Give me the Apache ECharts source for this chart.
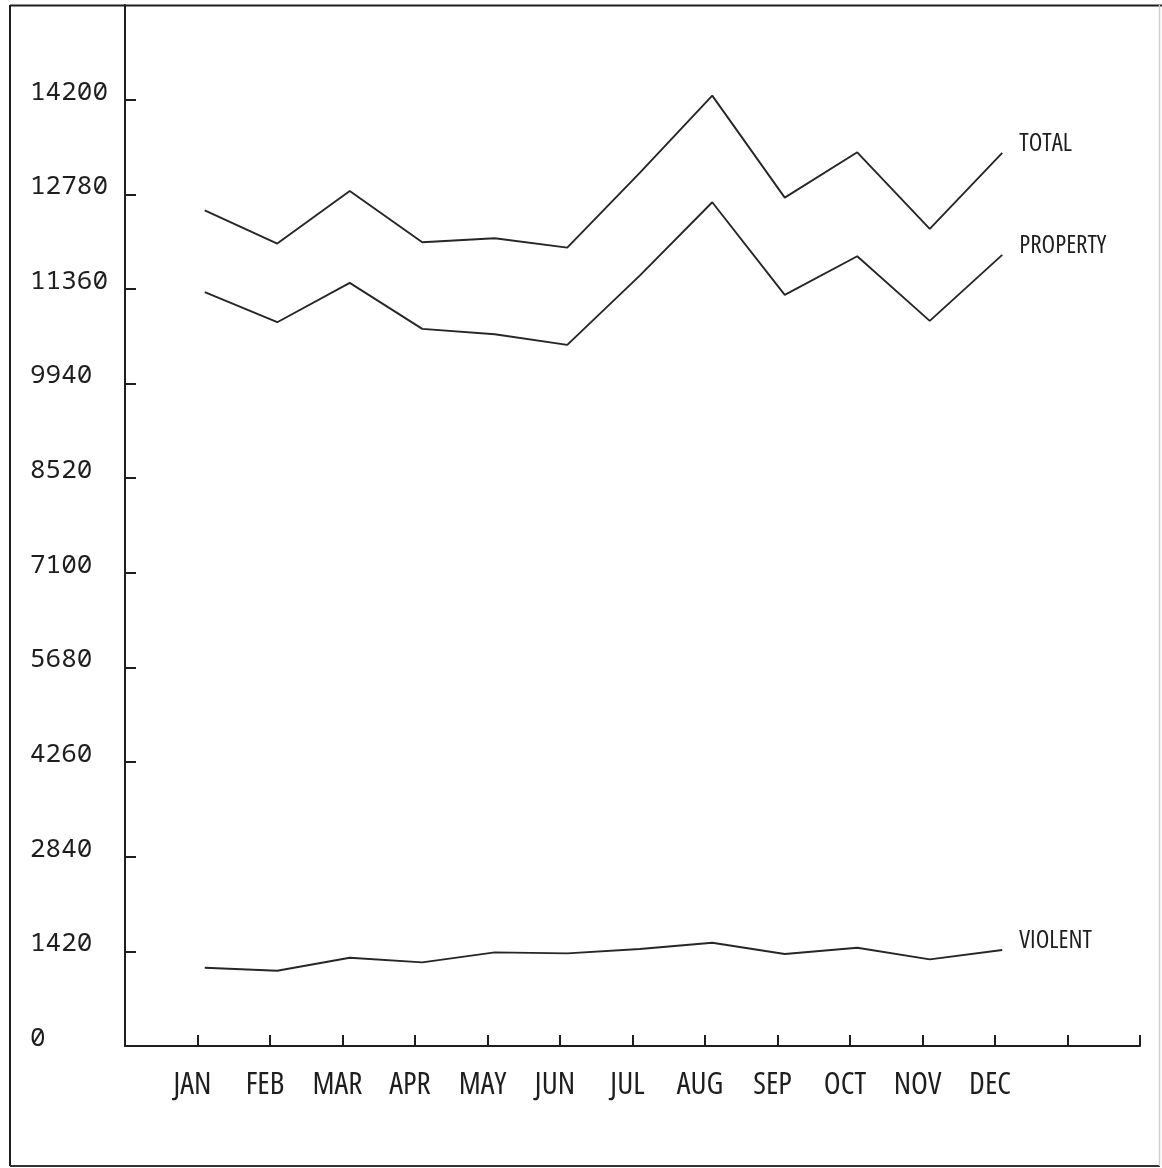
<!DOCTYPE html>
<html><head><meta charset="utf-8">
<script src="https://cdn.jsdelivr.net/npm/echarts@6/dist/echarts.min.js"></script>
<style>html,body{margin:0;padding:0;background:#fff}#c{width:1162px;height:1168px}</style>
</head><body><div id="c"></div>
<script>
// ---- data ----
const months = ['JAN','FEB','MAR','APR','MAY','JUN','JUL','AUG','SEP','OCT','NOV','DEC'];
const totalCrimes    = [12540, 12040, 12830, 12060, 12120, 11980, 13100, 14260, 12730, 13410, 12260, 13400];
const propertyCrimes = [11310, 10860, 11450, 10760, 10680, 10520, 11560, 12660, 11270, 11850, 10880, 11870];
const violentCrimes  = [1175, 1130, 1325, 1255, 1405, 1390, 1455, 1550, 1380, 1475, 1300, 1440];
const seriesNames = ['TOTAL', 'PROPERTY', 'VIOLENT'];
const yTickStep = 1420;

const ink = '#1e1e1e';
const chart = echarts.init(document.getElementById('c'), null, {renderer: 'canvas'});

function lineSeries(name, values) {
  return {
    name: name,
    type: 'line',
    xAxisIndex: 1,
    data: values.map((v, i) => [i + 1, v]),
    showSymbol: false,
    symbol: 'none',
    lineStyle: {color: '#262626', width: 1.9},
    endLabel: {
      show: true,
      formatter: '{a}',
      distance: 17,
      offset: [0, -9],
      color: ink,
      fontStyle: 'condensed',
      fontWeight: 500,
      fontFamily: 'Open Sans',
      fontSize: 25
    },
    emphasis: {disabled: true},
    silent: true
  };
}

chart.setOption({
  animation: false,
  backgroundColor: '#fff',
  grid: {left: 125, right: 22, top: 5, bottom: 122, containLabel: false},
  xAxis: [{
    type: 'value',
    min: 0, max: 14, interval: 1,
    splitLine: {show: false},
    axisLine: {show: true, lineStyle: {color: ink, width: 2}},
    axisTick: {show: true, inside: true, length: 11, lineStyle: {color: ink, width: 2}},
    axisLabel: {
      show: true,
      formatter: v => (v >= 1 && v <= months.length) ? months[v - 1] : '',
      margin: 24,
      padding: [0, 10, 0, 0],
      color: ink,
      fontStyle: 'condensed',
      fontWeight: 500,
      fontFamily: 'Open Sans',
      fontSize: 31
    }
  }, {
    type: 'value',
    min: -0.1, max: 13.9,
    show: false
  }],
  yAxis: {
    type: 'value',
    min: 0, max: 15620, interval: yTickStep,
    splitLine: {show: false},
    axisLine: {show: true, lineStyle: {color: ink, width: 2}},
    axisTick: {show: true, inside: true, length: 11, lineStyle: {color: ink, width: 2}},
    axisLabel: {
      show: true,
      showMaxLabel: false,
      showMinLabel: true,
      formatter: v => String(v),
      align: 'left',
      verticalAlign: 'bottom',
      lineHeight: 15,
      margin: 95,
      color: ink,
      fontFamily: '"Noto Sans Mono", "DejaVu Sans Mono", monospace',
      fontSize: 26
    }
  },
  graphic: [
    {type: 'line', shape: {x1: 10, y1: 5.5, x2: 1162, y2: 5.5}, style: {stroke: ink, lineWidth: 2}, silent: true},
    {type: 'line', shape: {x1: 10, y1: 5, x2: 10, y2: 1166}, style: {stroke: ink, lineWidth: 2}, silent: true},
    {type: 'line', shape: {x1: 10, y1: 1166, x2: 1160, y2: 1166}, style: {stroke: '#333', lineWidth: 2}, silent: true},
    {type: 'line', shape: {x1: 1159.5, y1: 5, x2: 1159.5, y2: 1166}, style: {stroke: '#cfcfcf', lineWidth: 1.5}, silent: true}
  ],
  series: [
    lineSeries(seriesNames[0], totalCrimes),
    lineSeries(seriesNames[1], propertyCrimes),
    lineSeries(seriesNames[2], violentCrimes)
  ]
});
</script>
</body></html>
